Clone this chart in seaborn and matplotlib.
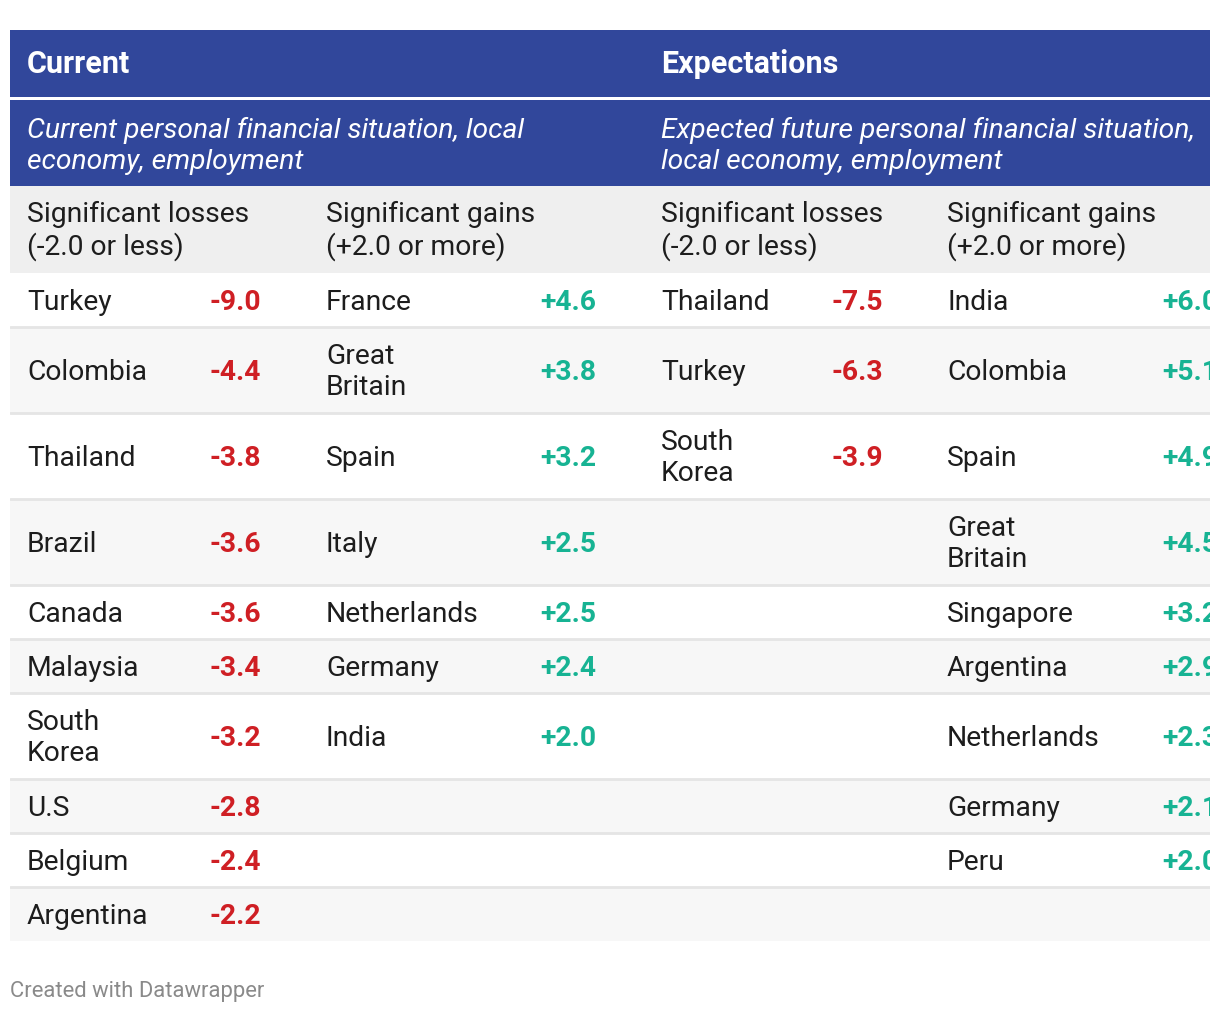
import matplotlib
matplotlib.use("Agg")
import matplotlib.pyplot as plt
import seaborn as sns

cur_loss_countries = ["Turkey", "Colombia", "Thailand", "Brazil", "Canada", "Malaysia",
                      "South\nKorea", "U.S", "Belgium", "Argentina"]
cur_loss_values = [-9.0, -4.4, -3.8, -3.6, -3.6, -3.4, -3.2, -2.8, -2.4, -2.2]
cur_gain_countries = ["France", "Great\nBritain", "Spain", "Italy", "Netherlands", "Germany", "India"]
cur_gain_values = [4.6, 3.8, 3.2, 2.5, 2.5, 2.4, 2.0]
exp_loss_countries = ["Thailand", "Turkey", "South\nKorea"]
exp_loss_values = [-7.5, -6.3, -3.9]
exp_gain_countries = ["India", "Colombia", "Spain", "Great\nBritain", "Singapore", "Argentina",
                      "Netherlands", "Germany", "Peru"]
exp_gain_values = [6.0, 5.1, 4.9, 4.5, 3.2, 2.9, 2.3, 2.1, 2.0]

group_titles = ["Current", "Expectations"]
group_subtitles = ["Current personal financial situation, local\neconomy, employment",
                   "Expected future personal financial situation,\nlocal economy, employment"]
col_headers = ["Significant losses\n(-2.0 or less)", "Significant gains\n(+2.0 or more)"]

BLUE = "#31479b"
RED = "#cf1f24"
GREEN = "#17b393"
INK = "#1d1d1d"

sns.set_style("white")
plt.rcParams["font.family"] = ["Roboto", "DejaVu Sans"]

fig = plt.figure(figsize=(12.2, 10.16), dpi=100)
ax = fig.add_axes([10 / 1220, 0, 1200 / 1220, 1])
ax.set_xlim(10, 1210)
ax.set_ylim(1016, 0)
ax.axis("off")

FS = 20.3  # ~28px
LS = 1.15

# header bands
ax.axhspan(30, 97, color=BLUE, lw=0)
ax.axhspan(100, 186, color=BLUE, lw=0)
ax.axhspan(186, 273, color="#efefef", lw=0)

group_x = [27, 661]
for gx, t, s in zip(group_x, group_titles, group_subtitles):
    ax.text(gx, 64, t, color="white", fontsize=22, fontweight="bold", va="center", clip_on=True)
    ax.text(gx, 146, s, color="white", fontsize=FS, style="italic", va="center",
            linespacing=1.27, clip_on=True)

name_x = [27, 326, 661, 947]
val_x = [261, 596, 883, 1218]
for k, nx in enumerate(name_x):
    ax.text(nx, 231, col_headers[k % 2], color=INK, fontsize=FS, va="center",
            linespacing=LS, clip_on=True)

cols = [(cur_loss_countries, cur_loss_values, RED),
        (cur_gain_countries, cur_gain_values, GREEN),
        (exp_loss_countries, exp_loss_values, RED),
        (exp_gain_countries, exp_gain_values, GREEN)]

n_rows = max(len(c[0]) for c in cols)
y = 273
for i in range(n_rows):
    two_line = any(i < len(c[0]) and "\n" in c[0][i] for c in cols)
    h = 86 if two_line else 54
    if i % 2 == 1:
        ax.axhspan(y, y + h, color="#f7f7f7", lw=0)
    if i < n_rows - 1:
        ax.axhline(y + h, color="#e5e5e5", lw=2)
    yc = y + h / 2 + 2
    for (names, vals, colr), nx, vx in zip(cols, name_x, val_x):
        if i < len(names):
            ax.text(nx, yc, names[i], color=INK, fontsize=FS, va="center",
                    linespacing=LS, clip_on=True)
            ax.text(vx, yc, f"{vals[i]:+.1f}", color=colr, fontsize=FS, fontweight="bold",
                    ha="right", va="center", clip_on=True)
    y += h

ax.text(10, 992, "Created with Datawrapper", color="#8a8a8a", fontsize=15.8, va="center",
        clip_on=False)

fig.savefig("out.png", dpi=100, facecolor="white")
